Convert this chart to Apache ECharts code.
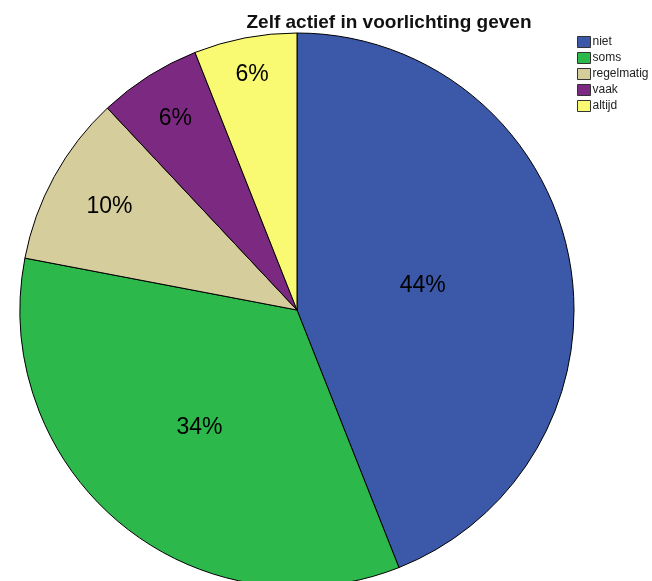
<!DOCTYPE html>
<html><head><meta charset="utf-8">
<script src="https://cdn.jsdelivr.net/npm/echarts@6/dist/echarts.min.js"></script>
<style>html,body{margin:0;padding:0;background:#fff}#c{width:652px;height:581px}</style>
</head><body><div id="c"></div>
<script>
const categories = ['niet', 'soms', 'regelmatig', 'vaak', 'altijd'];
const values = [44, 34, 10, 6, 6];
const colors = ['#3c58a9', '#2db84c', '#d6cd9c', '#7c2a81', '#fafa72'];
const titleText = 'Zelf actief in voorlichting geven';

const chart = echarts.init(document.getElementById('c'));
const fmt = p => Math.round(p.percent) + '%';
const FONT = 'Liberation Sans, Arial, sans-serif';

// label-only transparent rings: each slice's label sits at its own distance from the centre, as in the reference
function labelRing(radius, showNames) {
  return {
    type: 'pie', silent: true, center: [297, 310], radius: radius, startAngle: 90,
    legendHoverLink: false, animation: false, z: 5,
    itemStyle: { color: 'transparent', borderWidth: 0 },
    emphasis: { disabled: true },
    labelLine: { show: false },
    label: { show: true, position: 'inside', formatter: fmt, fontSize: 23, color: '#000', fontFamily: FONT },
    data: categories.map((n, i) => ({ name: n, value: values[i], label: { show: showNames.includes(n) } }))
  };
}

chart.setOption({
  animation: false,
  title: { text: titleText, left: 384, top: 8, textAlign: 'center',
    textStyle: { fontSize: 19, fontWeight: 'bold', color: '#111', fontFamily: FONT } },
  legend: { orient: 'vertical', left: 572, top: 31, itemWidth: 13, itemHeight: 11, itemGap: 4,
    icon: 'rect', data: categories,
    itemStyle: { borderColor: '#333', borderWidth: 1 },
    textStyle: { fontSize: 12, color: '#222', padding: [0, 0, 0, -3], fontFamily: FONT } },
  series: [
    {
      type: 'pie', center: [297, 310], radius: 277, startAngle: 90, clockwise: true,
      itemStyle: { borderColor: '#000', borderWidth: 1 },
      emphasis: { disabled: true },
      label: { show: false },
      labelLine: { show: false },
      data: categories.map((n, i) => ({ name: n, value: values[i], itemStyle: { color: colors[i] } }))
    },
    labelRing([100, 150], ['niet']),
    labelRing([120, 180], ['soms']),
    labelRing([190, 232], ['regelmatig']),
    labelRing([200, 248], ['vaak']),
    labelRing([210, 264], ['altijd'])
  ]
});
</script></body></html>
